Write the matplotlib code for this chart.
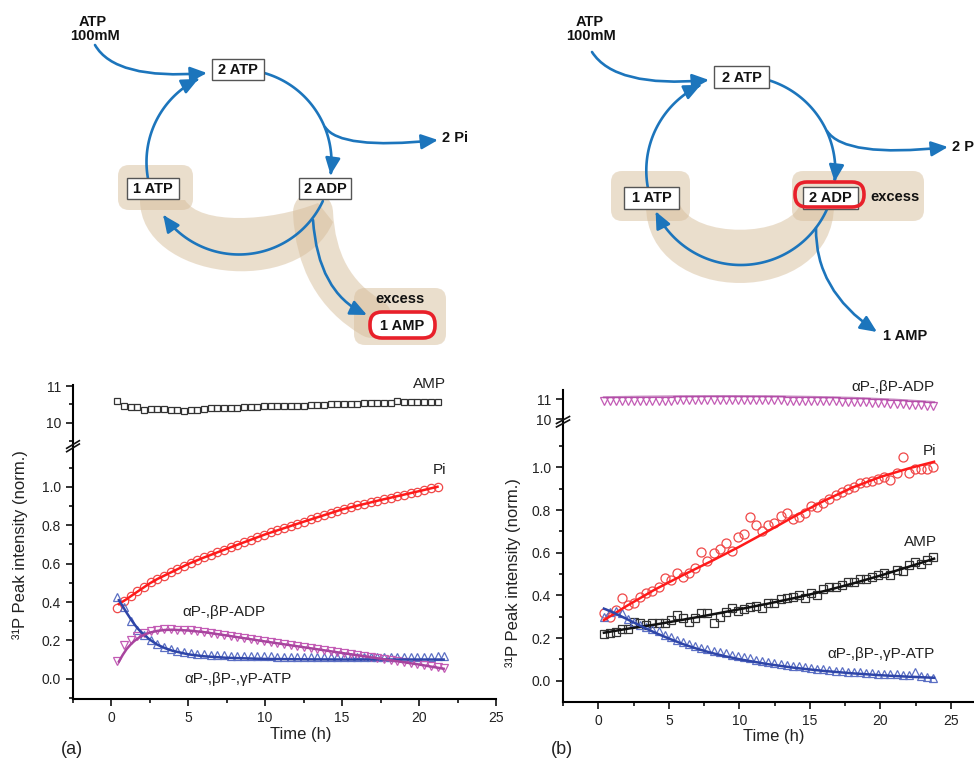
import numpy as np
import matplotlib
matplotlib.use("Agg")
import matplotlib.pyplot as plt
from matplotlib.path import Path
from matplotlib.patches import PathPatch, FancyArrowPatch, FancyBboxPatch, Rectangle
from matplotlib.ticker import MultipleLocator, FixedLocator

plt.rcParams['font.family'] = ['Liberation Sans', 'DejaVu Sans']

W, H = 974, 758

# ---------------- panel (a) data ----------------
t_a = [0.40, 0.83, 1.27, 1.70, 2.13, 2.57, 3.00, 3.43, 3.87, 4.30, 4.73, 5.17, 5.60,
       6.03, 6.47, 6.90, 7.33, 7.77, 8.20, 8.63, 9.07, 9.50, 9.93, 10.37, 10.80,
       11.23, 11.67, 12.10, 12.53, 12.97, 13.40, 13.83, 14.27, 14.70, 15.13, 15.57,
       16.00, 16.43, 16.87, 17.30, 17.73, 18.17, 18.60, 19.03, 19.47, 19.90, 20.33,
       20.77, 21.20, 21.63]
amp_a = [10.60, 10.46, 10.44, 10.44, 10.35, 10.37, 10.37, 10.37, 10.36, 10.35,
         10.33, 10.35, 10.36, 10.38, 10.39, 10.40, 10.40, 10.40, 10.41, 10.42,
         10.42, 10.44, 10.455, 10.455, 10.46, 10.46, 10.46, 10.47, 10.47, 10.49,
         10.49, 10.49, 10.50, 10.51, 10.51, 10.51, 10.52, 10.53, 10.53, 10.54,
         10.55, 10.55, 10.60, 10.56, 10.56, 10.56, 10.56, 10.56, 10.56]
pi_a = [0.370, 0.408, 0.432, 0.456, 0.479, 0.502, 0.520, 0.537, 0.554, 0.571,
        0.588, 0.604, 0.618, 0.632, 0.646, 0.659, 0.672, 0.685, 0.698, 0.711,
        0.724, 0.737, 0.750, 0.763, 0.775, 0.786, 0.797, 0.808, 0.819, 0.830,
        0.841, 0.852, 0.863, 0.874, 0.885, 0.894, 0.903, 0.911, 0.919, 0.927,
        0.935, 0.943, 0.951, 0.959, 0.967, 0.975, 0.983, 0.991, 1.000]
atp_a = [0.425, 0.375, 0.300, 0.255, 0.228, 0.205, 0.182, 0.168, 0.156, 0.147,
         0.140, 0.135, 0.131, 0.128, 0.126, 0.124, 0.122, 0.121, 0.120, 0.119,
         0.118, 0.118, 0.117, 0.117, 0.116, 0.116, 0.116, 0.116, 0.115, 0.115,
         0.116, 0.115, 0.115, 0.116, 0.115, 0.115, 0.116, 0.115, 0.116, 0.115,
         0.116, 0.116, 0.115, 0.116, 0.116, 0.115, 0.116, 0.116, 0.117, 0.117]
adp_a = [0.095, 0.175, 0.205, 0.225, 0.240, 0.250, 0.255, 0.258, 0.258, 0.257,
         0.255, 0.252, 0.248, 0.244, 0.240, 0.235, 0.230, 0.225, 0.220, 0.214,
         0.208, 0.202, 0.197, 0.191, 0.186, 0.180, 0.175, 0.170, 0.165, 0.160,
         0.155, 0.149, 0.144, 0.139, 0.134, 0.129, 0.124, 0.119, 0.114, 0.109,
         0.104, 0.099, 0.094, 0.089, 0.084, 0.079, 0.073, 0.067, 0.062, 0.057]
# fitted curves
pi_fit_t_a = [0.5, 1, 1.5, 2, 2.5, 3, 4, 5, 6, 7.5, 10, 12.5, 15, 17.5, 20, 21.2]
pi_fit_a = [0.39, 0.415, 0.443, 0.47, 0.497, 0.52, 0.559, 0.598, 0.631, 0.677,
            0.752, 0.818, 0.882, 0.931, 0.977, 1.0]
fit_t_a = [0.5, 0.75, 1, 1.25, 1.5, 1.75, 2, 2.5, 3, 3.5, 4, 5, 6, 7.5, 10, 12.5,
           15, 17.5, 20, 21.6]
atp_fit_a = [0.41, 0.378, 0.345, 0.314, 0.285, 0.26, 0.24, 0.205, 0.178, 0.16,
             0.146, 0.128, 0.118, 0.110, 0.104, 0.102, 0.101, 0.101, 0.101, 0.101]
adp_fit_a = [0.09, 0.125, 0.155, 0.178, 0.197, 0.212, 0.225, 0.241, 0.25, 0.255,
             0.256, 0.252, 0.244, 0.226, 0.195, 0.165, 0.135, 0.105, 0.075, 0.053]

# ---------------- panel (b) data ----------------
t_b = [0.38, 0.81, 1.25, 1.68, 2.11, 2.54, 2.98, 3.41, 3.84, 4.27, 4.71, 5.14, 5.57,
       6.00, 6.44, 6.87, 7.30, 7.73, 8.17, 8.60, 9.03, 9.46, 9.90, 10.33, 10.76,
       11.19, 11.62, 12.06, 12.49, 12.92, 13.36, 13.79, 14.22, 14.65, 15.09, 15.52,
       15.95, 16.38, 16.82, 17.25, 17.68, 18.11, 18.55, 18.98, 19.41, 19.84, 20.28,
       20.71, 21.14, 21.57, 22.01, 22.44, 22.87, 23.30, 23.73]
pi_b = [0.316, 0.300, 0.331, 0.386, 0.355, 0.363, 0.394, 0.410, 0.420, 0.440,
        0.480, 0.472, 0.503, 0.487, 0.503, 0.527, 0.605, 0.562, 0.600, 0.616,
        0.647, 0.608, 0.672, 0.687, 0.769, 0.730, 0.703, 0.730, 0.740, 0.772,
        0.787, 0.756, 0.769, 0.787, 0.819, 0.816, 0.831, 0.850, 0.870, 0.886,
        0.897, 0.906, 0.925, 0.933, 0.937, 0.945, 0.953, 0.940, 0.972, 1.050,
        0.975, 0.990, 0.990, 0.990, 1.000]
amp_b = [0.217, 0.222, 0.230, 0.241, 0.241, 0.277, 0.269, 0.261, 0.269, 0.272,
         0.269, 0.285, 0.308, 0.293, 0.277, 0.293, 0.319, 0.316, 0.272, 0.300,
         0.323, 0.339, 0.328, 0.334, 0.347, 0.350, 0.339, 0.363, 0.363, 0.381,
         0.386, 0.394, 0.402, 0.390, 0.409, 0.402, 0.428, 0.438, 0.441, 0.449,
         0.464, 0.464, 0.475, 0.475, 0.488, 0.496, 0.504, 0.496, 0.519, 0.516,
         0.543, 0.558, 0.547, 0.566, 0.582]
atp_b = [0.300, 0.323, 0.328, 0.316, 0.288, 0.275, 0.262, 0.253, 0.243, 0.232,
         0.214, 0.205, 0.192, 0.183, 0.173, 0.163, 0.153, 0.147, 0.141, 0.134,
         0.128, 0.122, 0.116, 0.110, 0.105, 0.099, 0.094, 0.089, 0.084, 0.079,
         0.075, 0.071, 0.067, 0.063, 0.059, 0.056, 0.053, 0.050, 0.048, 0.046,
         0.043, 0.041, 0.039, 0.038, 0.036, 0.034, 0.033, 0.031, 0.030, 0.028,
         0.027, 0.042, 0.022, 0.020, 0.012]
adp_b = [10.90, 10.91, 10.91, 10.92, 10.92, 10.93, 10.93, 10.93, 10.94, 10.94,
         10.94, 10.94, 10.95, 10.95, 10.95, 10.95, 10.95, 10.96, 10.96, 10.96,
         10.96, 10.96, 10.96, 10.96, 10.96, 10.95, 10.95, 10.95, 10.95, 10.95,
         10.94, 10.94, 10.94, 10.93, 10.93, 10.92, 10.92, 10.91, 10.90, 10.89,
         10.88, 10.87, 10.86, 10.85, 10.84, 10.82, 10.81, 10.79, 10.78, 10.76,
         10.74, 10.72, 10.70, 10.68, 10.66]
fit_t_b = [0.4, 2, 4, 6, 8, 10, 12, 14, 16, 18, 20, 22, 23.8]
pi_fit_b = [0.284, 0.35, 0.427, 0.495, 0.56, 0.628, 0.70, 0.774, 0.843, 0.905,
            0.955, 0.995, 1.026]
amp_fit_b = [0.225, 0.243, 0.263, 0.286, 0.31, 0.335, 0.361, 0.389, 0.42, 0.455,
             0.493, 0.534, 0.572]
atp_fit_t_b = [0.4, 1, 2, 3, 4, 5, 6, 7, 8, 9, 10, 12, 14, 16, 18, 20, 22, 23.8]
atp_fit_b = [0.338, 0.322, 0.29, 0.257, 0.226, 0.198, 0.172, 0.150, 0.131, 0.115,
             0.101, 0.078, 0.060, 0.046, 0.035, 0.026, 0.019, 0.014]
adp_fit_t_b = [0.4, 3, 6, 9, 12, 15, 18, 21, 23.8]
adp_fit_b = [11.10, 11.13, 11.15, 11.16, 11.15, 11.12, 11.07, 10.98, 10.86]

RED_M, RED_L = '#f04848', '#ff1a1a'
BLUE_M, BLUE_L = '#5b6fc4', '#2e45a8'
MAG_M, MAG_L = '#c35bb5', '#a8449e'
BLK = '#333333'
TXT = '#222222'

fig = plt.figure(figsize=(W / 100, H / 100), dpi=100)


def frac(left, top, right, bottom):
    return [left / W, 1 - bottom / H, (right - left) / W, (bottom - top) / H]


def style(ax, lower):
    ax.set_facecolor('none')
    ax.spines['top'].set_visible(False)
    ax.spines['right'].set_visible(False)
    ax.spines['left'].set_linewidth(1.5)
    ax.tick_params(which='both', direction='out', width=1.2, labelsize=10,
                   labelcolor=TXT, color='#111')
    ax.tick_params(which='major', length=5)
    ax.tick_params(which='minor', length=3)
    if lower:
        ax.spines['bottom'].set_linewidth(1.5)
        ax.xaxis.set_major_locator(MultipleLocator(5))
        ax.xaxis.set_minor_locator(MultipleLocator(2.5))
        ax.yaxis.set_major_locator(FixedLocator([0, 0.2, 0.4, 0.6, 0.8, 1.0]))
        ax.yaxis.set_minor_locator(FixedLocator([-0.1, 0.1, 0.3, 0.5, 0.7, 0.9, 1.1]))
        ax.yaxis.set_major_formatter(matplotlib.ticker.FormatStrFormatter('%.1f'))
    else:
        ax.spines['bottom'].set_visible(False)
        ax.tick_params(axis='x', which='both', bottom=False, labelbottom=False)
        ax.yaxis.set_major_locator(FixedLocator([10, 11]))


mk = dict(linestyle='none', mfc='none', mew=0.9)

# ---- panel (a) axes ----
axa_up = fig.add_axes(frac(72.7, 385, 496, 446))
axa = fig.add_axes(frac(72.7, 446, 496, 699.3))
for ax in (axa_up, axa):
    ax.set_xlim(-2.5, 25)
axa_up.set_ylim(9.365, 11.03)
axa.set_ylim(-0.106, 1.212)
style(axa_up, False)
style(axa, True)
axa_up.yaxis.set_minor_locator(FixedLocator([9.5, 10.5]))

axa_up.plot(t_a[:len(amp_a)], amp_a, marker='s', ms=5, mec=BLK, **mk)
axa.plot(t_a[:len(pi_a)], pi_a, marker='o', ms=6, mec=RED_M, **mk)
axa.plot(t_a, atp_a, marker='^', ms=6, mec=BLUE_M, **mk)
axa.plot(t_a, adp_a, marker='v', ms=6, mec=MAG_M, **mk)
axa.plot(pi_fit_t_a, pi_fit_a, color=RED_L, lw=1.8)
axa.plot(fit_t_a, atp_fit_a, color=BLUE_L, lw=1.8)
axa.plot(fit_t_a, adp_fit_a, color=MAG_L, lw=1.8)

# ---- panel (b) axes ----
axb_up = fig.add_axes(frac(563, 390, 974, 423))
axb = fig.add_axes(frac(563, 423, 974, 701.7))
for ax in (axb_up, axb):
    ax.set_xlim(-2.5, 26.63)
axb_up.set_ylim(9.815, 11.465)
axb.set_ylim(-0.098, 1.2076)
style(axb_up, False)
style(axb, True)

axb_up.plot(t_b, adp_b, marker='v', ms=6, mec=MAG_M, **mk)
axb_up.plot(adp_fit_t_b, adp_fit_b, color=MAG_L, lw=1.6, alpha=0.6)
axb.plot(t_b, pi_b, marker='o', ms=6.5, mec=RED_M, **mk)
axb.plot(t_b, amp_b, marker='s', ms=5.5, mec=BLK, **mk)
axb.plot(t_b, atp_b, marker='^', ms=6, mec=BLUE_M, **mk)
axb.plot(fit_t_b, pi_fit_b, color=RED_L, lw=1.8)
axb.plot(fit_t_b, amp_fit_b, color='#111111', lw=1.8)
axb.plot(atp_fit_t_b, atp_fit_b, color=BLUE_L, lw=1.8)

# ---- overlay in pixel coordinates (diagrams and labels) ----
ov = fig.add_axes([0, 0, 1, 1])
ov.set_xlim(0, W)
ov.set_ylim(H, 0)
ov.axis('off')
ov.patch.set_visible(False)
ov.set_zorder(10)

BLUE = '#1c75bc'
TAN = '#d7be9b'


def qpath(p0, c, p2):
    return Path([p0, c, p2], [Path.MOVETO, Path.CURVE3, Path.CURVE3])


def arcpath(cx, cy, r, a0, a1, n=80):
    th = np.radians(np.linspace(a0, a1, n))
    v = np.column_stack([cx + r * np.cos(th), cy + r * np.sin(th)])
    return Path(v, [Path.MOVETO] + [Path.LINETO] * (n - 1))


def arrow(path):
    ov.add_patch(FancyArrowPatch(path=path, arrowstyle='-|>,head_length=1.0,head_width=0.45',
                                 mutation_scale=10, color=BLUE, lw=1.9, zorder=2))


def band(path, width_px):
    ov.add_patch(PathPatch(path, fill=False, lw=width_px * 0.72, color=TAN, alpha=0.5,
                           capstyle='round', zorder=1))


def crescent(pts):
    codes = [Path.MOVETO, Path.CURVE4, Path.CURVE4, Path.CURVE4, Path.LINETO,
             Path.CURVE4, Path.CURVE4, Path.CURVE4, Path.CLOSEPOLY]
    ov.add_patch(PathPatch(Path(pts + [pts[0]], codes), fc=TAN, ec='none', alpha=0.5,
                           zorder=1))


def tanbox(x0, y0, x1, y1, r=11):
    ov.add_patch(FancyBboxPatch((x0, y0), x1 - x0, y1 - y0,
                                boxstyle='round,pad=0,rounding_size=%d' % r,
                                fc=TAN, ec='none', alpha=0.5, zorder=1))


def box(x0, y0, x1, y1, label):
    ov.add_patch(Rectangle((x0, y0), x1 - x0, y1 - y0, fc='white', ec='#555555',
                           lw=1.0, zorder=3))
    ov.text((x0 + x1) / 2, (y0 + y1) / 2 + 0.5, label, ha='center', va='center',
            fontsize=10.5, fontweight='bold', color='#111', zorder=4)


def redring(x0, y0, x1, y1, fill):
    ov.add_patch(FancyBboxPatch((x0, y0), x1 - x0, y1 - y0,
                                boxstyle='round,pad=0,rounding_size=12',
                                fc='white' if fill else 'none', ec='#e8202a', lw=2.6,
                                zorder=5))


def btext(x, y, s, ha='center'):
    ov.text(x, y, s, ha=ha, va='center', fontsize=10.5, fontweight='bold',
            color='#111', zorder=6)


# diagram (a)
tanbox(118, 165, 193, 210)
tanbox(354, 288, 446, 345)
crescent([(140, 200), (140, 280), (300, 300), (333, 222), (318, 203),
          (270, 222), (200, 225), (185, 200)])
band(qpath((313, 212), (316, 285), (372, 318)), 40)

arrow(qpath((95, 45), (115, 80), (207, 73)))
arrow(arcpath(239, 162, 92.5, 170, 244))
arrow(arcpath(239, 162, 92.5, 285, 368))
arrow(arcpath(239, 162, 92.5, 25, 145))
arrow(qpath((325, 127), (340, 150), (438, 140)))
arrow(qpath((313, 220), (318, 292), (367, 315)))

box(212, 59, 264, 80, '2 ATP')
box(127, 178, 179, 199, '1 ATP')
box(299, 178, 351, 199, '2 ADP')
redring(370, 312, 435, 338, True)
btext(402, 325.5, '1 AMP')
btext(400, 299, 'excess')
btext(455, 137.5, '2 Pi')
btext(93, 22, 'ATP')
btext(95, 36, '100mM')

# diagram (b)
tanbox(611, 171, 690, 221)
tanbox(792, 171, 924, 221)
crescent([(646, 205), (646, 309), (834, 309), (834, 205), (800, 205),
          (785, 238), (695, 238), (680, 205)])

arrow(qpath((592, 52), (615, 88), (709, 80)))
arrow(arcpath(740.8, 170.5, 94.5, 170, 245))
arrow(arcpath(740.8, 170.5, 94.5, 288, 366.8))
arrow(arcpath(740.8, 170.5, 94.5, 24, 154.3))
arrow(qpath((827, 131), (845, 158), (948, 147)))
arrow(qpath((816, 228), (815, 290), (877, 332)))

box(714, 66, 769, 88, '2 ATP')
box(624, 187, 679, 209, '1 ATP')
box(803, 187, 858, 209, '2 ADP')
redring(795, 182, 864, 207, False)
btext(895, 197, 'excess')
btext(905, 336, '1 AMP')
btext(952, 147, '2 Pi', ha='left')
btext(590, 22, 'ATP')
btext(591, 36, '100mM')

# break marks on the y axes
for (x0, y0, x1, y1) in [(66.7, 448.3, 79.3, 440.7), (66.7, 451.7, 79.3, 444.0),
                         (556.5, 423.5, 569.5, 416.5), (556.5, 427.0, 569.5, 420.0)]:
    ov.plot([x0, x1], [y0, y1], color='#111', lw=1.2)


# plot annotations
def ptext(x, y, s, size=11):
    ov.text(x, y, s, ha='center', va='center', fontsize=size, color=TXT)


ptext(429, 383.5, 'AMP')
ptext(439, 470, 'Pi')
ptext(224, 612, 'αP-,βP-ADP')
ptext(238, 679, 'αP-,βP-,γP-ATP')
ptext(300.5, 734, 'Time (h)', 12)
ptext(71.5, 749, '(a)', 13)
ov.text(20, 545, '³¹P Peak intensity (norm.)', rotation=90, ha='center', va='center',
        fontsize=12, color=TXT)

ptext(893, 386.7, 'αP-,βP-ADP')
ptext(930, 451, 'Pi')
ptext(920.5, 542.5, 'AMP')
ptext(880.5, 654, 'αP-,βP-,γP-ATP')
ptext(774, 736, 'Time (h)', 12)
ptext(562, 749, '(b)', 13)
ov.text(513, 573, '³¹P Peak intensity (norm.)', rotation=90, ha='center', va='center',
        fontsize=12, color=TXT)

fig.savefig('out.png', dpi=100)
